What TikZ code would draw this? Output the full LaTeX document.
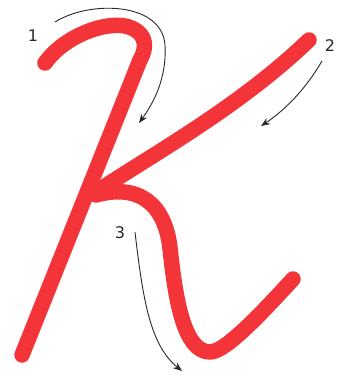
\documentclass[tikz,border=0pt]{standalone}
\usepackage{fontspec}
\setmainfont{DejaVu Sans}
\usetikzlibrary{arrows.meta}
\definecolor{kred}{RGB}{243,52,56}
\definecolor{kgray}{RGB}{40,40,40}
\begin{document}
\begin{tikzpicture}[x=1pt,y=-1pt,
  letterstroke/.style={draw=kred,line width=15.5pt,line cap=round,line join=round},
  guide/.style={draw=kgray,line width=0.9pt,-{Stealth[length=9pt,width=7pt]}},
  numlabel/.style={text=kgray,font=\fontsize{16}{16}\selectfont,inner sep=0pt}]
\useasboundingbox (0,0) rectangle (344,384);
% letter strokes
\draw[letterstroke] (45,63) .. controls (65,35) and (108,20) .. (129,27)
   .. controls (149,34) and (146,50) .. (140,60) -- (22,355);
\draw[letterstroke] (309,40) .. controls (240,106) and (160,150) .. (96,192);
\draw[letterstroke] (96,195) .. controls (140,183) and (165,205) .. (170,248)
   .. controls (175,295) and (183,352) .. (210,352)
   .. controls (225,352) and (260,315) .. (293,279);
% labels
\node[numlabel] (n1) at (33,36) {1};
\node[numlabel] (n2) at (330,46) {2};
\node[numlabel] (n3) at (120,233) {3};
% guide arrows
\coordinate (a1s) at (55,22);
\coordinate (a1e) at (139,123);
\coordinate (a2s) at (322,61);
\coordinate (a2e) at (261,126);
\coordinate (a3s) at (135,232);
\coordinate (a3e) at (182,371);
\draw[guide] (a1s) .. controls (90,0) and (162,2) .. (165,45) .. controls (167,80) and (152,105) .. (a1e);
\draw[guide] (a2s) .. controls (305,90) and (285,110) .. (a2e);
\draw[guide] (a3s) .. controls (143,300) and (150,345) .. (a3e);
\end{tikzpicture}
\end{document}
